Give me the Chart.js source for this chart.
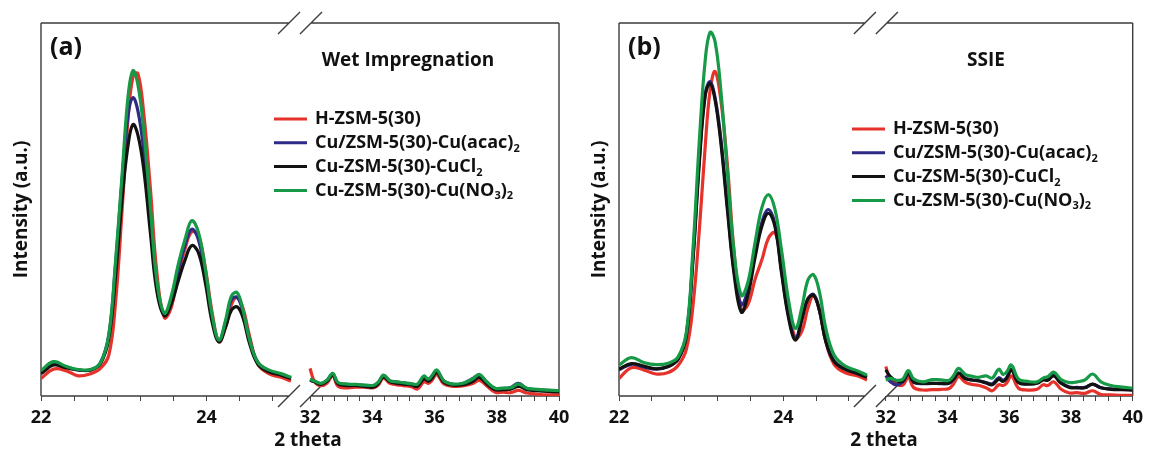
<!DOCTYPE html>
<html>
<head>
<meta charset="utf-8">
<script src="https://cdn.jsdelivr.net/npm/chart.js@4.4.1/dist/chart.umd.min.js"></script>
<style>
  html, body { margin: 0; padding: 0; background: #fff; }
  #wrap { position: relative; width: 1149px; height: 452px; }
  .panel { position: absolute; top: 0; height: 452px; }
  #panelA { left: 0; width: 578px; }
  #panelB { left: 578px; width: 571px; }
</style>
</head>
<body>
<div id="wrap">
  <div class="panel" id="panelA"><canvas id="chartA"></canvas></div>
  <div class="panel" id="panelB"><canvas id="chartB"></canvas></div>
</div>
<script>
// 2 theta sampling on both sides of the axis break
const lowAngles = [22.0, 22.15, 22.3, 22.45, 22.6, 22.72, 22.82, 22.9, 22.98, 23.05, 23.11, 23.17, 23.24, 23.32, 23.4, 23.49, 23.57, 23.66, 23.74, 23.82, 23.9, 23.98, 24.07, 24.15, 24.23, 24.3, 24.37, 24.44, 24.52, 24.62, 24.75, 24.9, 25.02];
const highAngles = [32.0, 32.15, 32.35, 32.55, 32.73, 32.9, 33.2, 33.5, 33.8, 34.05, 34.2, 34.36, 34.57, 34.8, 35.0, 35.25, 35.45, 35.66, 35.8, 35.92, 36.07, 36.3, 36.6, 36.9, 37.1, 37.25, 37.44, 37.68, 37.95, 38.2, 38.45, 38.7, 38.97, 39.3, 39.65, 40.0];
const lowTicks = [22, 24];
const highTicks = [32, 34, 36, 38, 40];

// "_n" marks a subscript digit
const seriesNames = ['H-ZSM-5(30)', 'Cu/ZSM-5(30)-Cu(acac)_2', 'Cu-ZSM-5(30)-CuCl_2', 'Cu-ZSM-5(30)-Cu(NO_3)_2'];
const seriesColors = ['#e5322b', '#2e2a86', '#121212', '#179a47'];

// (a) wet impregnation
const wetLowH = [4.7, 7.2, 6.8, 5.4, 6.0, 7.5, 11, 25, 50, 74, 85.5, 86.5, 76, 56, 33, 21, 23.5, 33, 39.5, 44, 43, 35, 22, 14.5, 18.5, 24.5, 26.4, 23.5, 16, 8.5, 6.0, 5.0, 4.0];
const wetLowAcac = [6.2, 8.8, 7.8, 7.0, 7.0, 9.0, 16.5, 35, 58, 75, 80, 76.5, 66, 47, 29, 21.8, 25.5, 34, 40.5, 44.7, 42, 33, 20.5, 14.8, 19.8, 25.8, 26.4, 22.5, 15, 9, 6.8, 5.8, 4.8];
const wetLowCl = [6.0, 8.3, 7.6, 7.0, 7.0, 8.8, 15.5, 32, 53, 67, 72.8, 70, 61, 44, 28, 21.5, 24.5, 31, 36.5, 40.3, 38.5, 31, 19.5, 14.5, 18.5, 23, 23.9, 21, 14, 8.5, 6.5, 5.6, 4.7];
const wetLowNO3 = [6.8, 9.2, 8.0, 7.1, 7.1, 9.0, 16.5, 36, 59.5, 80, 87.2, 83.5, 71.5, 51, 30.7, 22.2, 26.5, 35.5, 42, 47, 44, 34.7, 21.3, 15, 20.4, 26.8, 27.7, 23, 15, 9, 7.0, 6.0, 5.0];
const wetHighH = [7.4, 3.8, 2.8, 3.5, 5.5, 2.6, 2.2, 2.4, 2.3, 2.2, 3.0, 4.8, 3.4, 3.0, 2.8, 2.5, 1.9, 3.8, 3.4, 4.2, 5.8, 3.2, 2.6, 2.7, 3.0, 3.4, 4.2, 2.7, 1.0, 1.0, 0.9, 1.5, 0.8, 0.5, 0.3, 0.3];
const wetHighAcac = [4.4, 3.9, 3.3, 4.2, 5.9, 3.5, 3.1, 3.0, 2.8, 2.8, 3.7, 5.5, 4.0, 3.7, 3.5, 3.2, 3.0, 5.2, 4.5, 5.3, 6.8, 4.0, 3.1, 3.3, 4.1, 4.8, 5.6, 3.6, 2.0, 2.0, 2.3, 3.4, 2.0, 1.7, 1.5, 1.3];
const wetHighCl = [4.2, 3.8, 3.1, 4.0, 5.6, 3.2, 2.8, 2.8, 2.5, 2.4, 3.4, 5.1, 3.8, 3.4, 3.2, 3.0, 2.6, 4.6, 4.0, 4.8, 6.4, 3.7, 2.9, 3.0, 3.4, 4.0, 5.0, 3.2, 1.7, 1.7, 1.8, 2.6, 1.7, 1.4, 1.2, 1.1];
const wetHighNO3 = [4.5, 4.0, 3.4, 4.3, 6.1, 3.6, 3.2, 3.1, 2.9, 2.9, 3.8, 5.6, 4.1, 3.8, 3.6, 3.3, 3.2, 5.4, 4.5, 5.5, 7.0, 4.1, 3.2, 3.4, 4.0, 4.7, 5.8, 3.8, 2.1, 2.1, 2.2, 3.2, 2.1, 1.8, 1.6, 1.4];

// (b) solid state ion exchange
const ssieLowH = [4.7, 7.6, 7.0, 5.9, 6.3, 8.2, 12.5, 24, 45, 67, 82, 87, 79.4, 62, 39, 23, 24.5, 31.5, 36.5, 42.3, 43.8, 36, 23.5, 15.5, 17.5, 23.5, 26.8, 23, 14.5, 8.5, 6.3, 5.4, 4.3];
const ssieLowAcac = [7.0, 8.5, 7.8, 7.2, 7.9, 10, 16.5, 37, 64, 81, 84.3, 80, 69, 51, 34, 24.5, 28.5, 38.5, 46.5, 50, 46, 33.5, 21, 15.5, 21, 26, 27.2, 23.2, 14.8, 9.4, 7.3, 6.1, 5.1];
const ssieLowCl = [7.2, 8.7, 8.0, 7.3, 7.9, 9.8, 16, 36, 63, 80.5, 83.8, 79.4, 68, 50, 33, 22.5, 27, 37.5, 45.5, 49, 45.4, 32.9, 20.4, 15, 20.8, 26, 27, 23, 14.5, 9.2, 7.2, 6.0, 5.0];
const ssieLowNO3 = [8.3, 10.3, 9.0, 8.4, 8.8, 10.5, 17, 39, 69, 90, 97.5, 95, 82, 60, 39, 27, 30.5, 41.5, 50.5, 54, 50, 39, 25, 18.1, 24, 31, 32.5, 28, 18, 11, 8.1, 6.8, 5.6];
const ssieHighH = [7.9, 4.3, 3.2, 2.9, 5.0, 2.3, 1.6, 1.7, 1.8, 2.0, 3.3, 5.2, 3.7, 3.1, 2.9, 2.2, 1.4, 3.0, 2.8, 3.5, 5.4, 2.1, 1.6, 1.8, 3.0, 2.8, 3.8, 1.8, 0.8, 0.9, 0.7, 1.4, 0.4, 0.3, 0.2, 0.2];
const ssieHighAcac = [5.5, 3.8, 3.0, 3.8, 6.0, 3.7, 3.3, 3.4, 3.3, 3.4, 4.5, 6.2, 4.8, 4.3, 4.1, 3.6, 3.3, 4.9, 4.2, 5.0, 7.1, 3.7, 3.3, 3.5, 4.6, 4.4, 5.5, 3.6, 2.4, 2.3, 2.3, 3.1, 2.2, 1.9, 1.9, 1.7];
const ssieHighCl = [7.0, 5.2, 4.0, 4.0, 6.1, 3.8, 3.4, 3.4, 3.4, 3.5, 4.6, 6.1, 4.7, 4.3, 4.1, 3.5, 3.0, 4.5, 3.9, 4.8, 7.0, 3.6, 3.2, 3.4, 4.3, 4.2, 5.4, 3.4, 2.3, 2.2, 2.2, 3.2, 2.2, 1.8, 1.7, 1.6];
const ssieHighNO3 = [4.3, 4.7, 4.2, 4.5, 6.8, 4.6, 3.8, 4.4, 4.3, 4.2, 5.5, 7.4, 5.8, 5.3, 5.0, 5.4, 4.8, 7.2, 5.8, 6.5, 8.3, 4.5, 3.9, 3.8, 4.8, 5.2, 6.4, 4.4, 3.6, 3.8, 4.3, 5.9, 3.8, 2.8, 2.4, 2.1];

const FONT = "'Open Sans', sans-serif";
Chart.defaults.font.family = FONT;
Chart.defaults.color = '#111';

// minor tick every 0.4 degree, labels only on the listed values
function tickValues(from, to) {
  const out = [];
  for (let i = 0; from + i * 0.4 <= to + 1e-6; i++) out.push(Math.round((from + i * 0.4) * 10) / 10);
  return out;
}

// writes text where "_n" drops n to a subscript
function drawRich(ctx, text, x, y, size) {
  text.split(/_(\d)/).forEach((part, i) => {
    if (!part) return;
    const sub = i % 2 === 1;
    ctx.font = `bold ${sub ? Math.round(size * 0.62) : size}px ${FONT}`;
    ctx.fillText(part, x, sub ? y + size * 0.32 : y);
    x += ctx.measureText(part).width;
  });
}

// box with a break on top and bottom between the two x ranges
const brokenFrame = {
  id: 'brokenFrame',
  beforeDatasetsDraw(chart) {
    const {ctx, chartArea: a, scales} = chart;
    const cut = scales.xLow.right;
    const s1 = cut - 7, s2 = cut + 15;
    ctx.save();
    ctx.strokeStyle = '#3c3c3c';
    ctx.lineWidth = 1.4;
    ctx.beginPath();
    ctx.moveTo(a.left, a.top); ctx.lineTo(a.left, a.bottom);
    ctx.moveTo(a.right, a.top); ctx.lineTo(a.right, a.bottom);
    for (const y of [a.top, a.bottom]) {
      ctx.moveTo(a.left, y); ctx.lineTo(s1, y);
      ctx.moveTo(s2, y); ctx.lineTo(a.right, y);
      for (const sx of [s1, s2]) {
        ctx.moveTo(sx - 11, y + 11);
        ctx.lineTo(sx + 11, y - 11);
      }
    }
    ctx.stroke();
    ctx.restore();
  }
};

// panel tag, method name, x title and the legend
const panelText = {
  id: 'panelText',
  afterDraw(chart, args, opts) {
    const {ctx, chartArea: a, scales} = chart;
    ctx.save();
    ctx.fillStyle = '#111';
    ctx.textBaseline = 'middle';
    ctx.textAlign = 'left';
    ctx.font = `bold 25px ${FONT}`;
    ctx.fillText(opts.tag, a.left + 9, 48);
    ctx.textAlign = 'center';
    ctx.font = `bold 19px ${FONT}`;
    ctx.fillText(opts.method, a.left + 367, 61);
    ctx.fillText('2 theta', scales.xLow.right + 12, 441);

    ctx.textAlign = 'left';
    chart.data.datasets.filter(d => d.xAxisID === 'xLow').forEach((d, i) => {
      const y = opts.legendTop + i * 23.8;
      ctx.strokeStyle = d.borderColor;
      ctx.lineWidth = 3;
      ctx.beginPath();
      ctx.moveTo(a.left + 233, y);
      ctx.lineTo(a.left + 266, y);
      ctx.stroke();
      drawRich(ctx, d.label, a.left + 274, y, 18);
    });
    ctx.restore();
  }
};

function xAxis(weight, min, max, ticks, first, last) {
  return {
    type: 'linear',
    position: 'bottom',
    stack: 'x',
    stackWeight: weight,
    min: min,
    max: max,
    afterBuildTicks: s => { s.ticks = tickValues(first, last).map(v => ({value: v})); },
    afterFit: s => { s.height = 56; },
    ticks: {
      autoSkip: false,
      maxRotation: 0,
      padding: 6,
      color: '#111',
      font: {size: 18, weight: 'bold'},
      callback: v => ticks.includes(v) ? String(v) : ''
    },
    grid: {drawOnChartArea: false, tickLength: 5, color: '#444', lineWidth: 1},
    border: {display: false}
  };
}

function buildChart(canvasId, low, high, opts, rightPad) {
  const datasets = [];
  [['xLow', lowAngles, low], ['xHigh', highAngles, high]].forEach(([axis, angles, sets]) => {
    sets.forEach((values, i) => {
      datasets.push({
        label: seriesNames[i],
        data: angles.map((x, j) => ({x: x, y: values[j]})),
        xAxisID: axis,
        yAxisID: 'y',
        borderColor: seriesColors[i],
        borderWidth: 3.2,
        pointRadius: 0,
        tension: 0.4,
        order: sets.length - i
      });
    });
  });

  return new Chart(document.getElementById(canvasId), {
    type: 'line',
    data: {datasets: datasets},
    options: {
      responsive: true,
      maintainAspectRatio: false,
      animation: false,
      devicePixelRatio: 1,
      layout: {padding: {top: 23, right: rightPad, bottom: 0, left: 0}},
      plugins: {
        legend: {display: false},
        tooltip: {enabled: false},
        panelText: opts
      },
      scales: {
        xLow: xAxis(255, 22, 25.08, lowTicks, 22, 24.8),
        xHigh: xAxis(263, 31.55, 40, highTicks, 32, 40),
        y: {
          min: 0,
          max: 100,
          afterFit: s => { s.width = 41; },
          ticks: {display: false},
          grid: {display: false},
          border: {display: false},
          title: {
            display: true,
            text: 'Intensity (a.u.)',
            color: '#111',
            font: {size: 19, weight: 'bold', lineHeight: 1.2},
            padding: {top: 10, bottom: 0}
          }
        }
      }
    },
    plugins: [brokenFrame, panelText]
  });
}

buildChart('chartA',
  [wetLowH, wetLowAcac, wetLowCl, wetLowNO3],
  [wetHighH, wetHighAcac, wetHighCl, wetHighNO3],
  {tag: '(a)', method: 'Wet Impregnation', legendTop: 119}, 19);

buildChart('chartB',
  [ssieLowH, ssieLowAcac, ssieLowCl, ssieLowNO3],
  [ssieHighH, ssieHighAcac, ssieHighCl, ssieHighNO3],
  {tag: '(b)', method: 'SSIE', legendTop: 129}, 11);
</script>
</body>
</html>
